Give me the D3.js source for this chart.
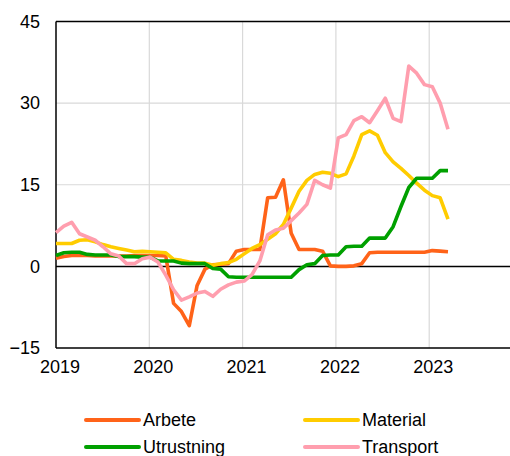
<!DOCTYPE html>
<html>
<head>
<meta charset="utf-8">
<script src="https://cdn.jsdelivr.net/npm/d3@7"></script>
<style>
  html, body { margin: 0; padding: 0; background: #fff; }
  svg { display: block; font-family: "Liberation Sans", Arial, sans-serif; }
</style>
</head>
<body>
<div id="chart"></div>
<script>
// ---- Data (monthly, Jan 2019 – Mar 2023) ----
const months = d3.range(51).map(i => new Date(2019, i, 1));
const arbete = [1.5, 1.8, 2.0, 2.0, 2.0, 1.9, 1.9, 1.9, 1.9, 1.9, 2.0, 2.0, 2.0, 2.0, 1.9,
  -6.8, -8.3, -10.9, -3.5, -0.5, 0.3, 0.4, 0.5, 2.8, 3.1, 3.1, 3.1, 12.6, 12.7, 15.9,
  6.1, 3.1, 3.1, 3.1, 2.8, 0.1, 0.0, 0.0, 0.1, 0.5, 2.5, 2.6, 2.6, 2.6, 2.6, 2.6, 2.6,
  2.6, 2.9, 2.8, 2.7];
const material = [4.2, 4.2, 4.2, 4.8, 4.9, 4.5, 4.0, 3.6, 3.3, 3.0, 2.7, 2.75, 2.7, 2.6, 2.5,
  1.3, 1.1, 0.8, 0.6, 0.6, 0.2, 0.5, 0.7, 1.3, 2.3, 3.3, 4.0, 5.0, 6.0, 7.7,
  10.7, 13.8, 15.8, 16.9, 17.3, 17.1, 16.5, 17.0, 20.3, 24.2, 24.9, 24.1, 20.9, 19.2,
  18.0, 16.7, 15.3, 14.0, 13.0, 12.6, 8.7];
const utrustning = [2.0, 2.5, 2.6, 2.6, 2.2, 2.1, 2.1, 2.1, 1.8, 1.8, 1.8, 1.7, 1.7, 1.0, 1.0,
  1.0, 0.6, 0.5, 0.5, 0.5, -0.4, -0.5, -1.9, -2.0, -2.0, -2.0, -2.0, -2.0, -2.0, -2.0,
  -2.0, -0.6, 0.3, 0.5, 2.0, 2.1, 2.1, 3.6, 3.7, 3.7, 5.2, 5.2, 5.2, 7.3, 11.0, 14.5,
  16.2, 16.2, 16.2, 17.6, 17.6];
const transport = [6.2, 7.4, 8.1, 6.0, 5.4, 4.8, 3.6, 2.3, 1.9, 0.5, 0.5, 1.4, 1.7, 0.8, -1.6,
  -4.3, -6.2, -5.6, -4.9, -4.6, -5.5, -4.2, -3.4, -2.9, -2.7, -1.5, 1.0, 5.8, 6.7, 7.0,
  8.4, 9.8, 11.4, 15.8, 15.0, 14.4, 23.6, 24.2, 26.8, 27.5, 26.4, 28.6, 30.9, 27.2,
  26.6, 36.8, 35.5, 33.4, 33.0, 30.0, 25.2];
const seriesNames = ["Arbete", "Material", "Utrustning", "Transport"];
const seriesValues = [arbete, material, utrustning, transport];
const seriesColors = ["#FF6319", "#FFCC00", "#00A000", "#FF9EAE"];
const yTicks = [-15, 0, 15, 30, 45];
const yearTicks = [2019, 2020, 2021, 2022, 2023];

// ---- Layout ----
const W = 510, H = 456;
const mLeft = 56, mTop = 21.5, mBottom = 348;

const svg = d3.select("#chart").append("svg").attr("width", W).attr("height", H);

const x = d3.scalePoint().domain(months).range([mLeft, 448]);
const xYear = d3.scaleLinear().domain([2019, 2024]).range([mLeft, 522.5]);
const y = d3.scaleLinear().domain([-15, 45]).range([mBottom, mTop]);

// gridlines
svg.append("g").selectAll("line").data([15, 30]).join("line")
  .attr("x1", mLeft).attr("x2", W + 20)
  .attr("y1", d => y(d)).attr("y2", d => y(d))
  .attr("stroke", "#D9D9D9").attr("stroke-width", 1.2);
svg.append("g").selectAll("line").data([2020, 2021, 2022, 2023]).join("line")
  .attr("x1", d => xYear(d)).attr("x2", d => xYear(d))
  .attr("y1", mTop).attr("y2", mBottom)
  .attr("stroke", "#D9D9D9").attr("stroke-width", 1.2);

// frame
svg.append("line").attr("x1", mLeft).attr("x2", W + 20).attr("y1", mTop).attr("y2", mTop)
  .attr("stroke", "#000").attr("stroke-width", 1.5);
svg.append("line").attr("x1", mLeft).attr("x2", mLeft).attr("y1", mTop).attr("y2", mBottom)
  .attr("stroke", "#000").attr("stroke-width", 1.5);
svg.append("line").attr("x1", mLeft).attr("x2", W + 20).attr("y1", mBottom).attr("y2", mBottom)
  .attr("stroke", "#000").attr("stroke-width", 1.5);
// zero line
svg.append("line").attr("x1", mLeft).attr("x2", W + 20).attr("y1", y(0)).attr("y2", y(0))
  .attr("stroke", "#000").attr("stroke-width", 1.5);

// y axis labels
const yAxis = d3.axisLeft(y).tickValues(yTicks).tickSize(0).tickPadding(16);
const gy = svg.append("g").attr("transform", `translate(${mLeft},0)`).call(yAxis);
gy.select(".domain").remove();
gy.selectAll("text").attr("font-size", 18).attr("fill", "#000")
  .attr("font-family", "Liberation Sans, Arial, sans-serif");

// x axis labels
const xAxis = d3.axisBottom(xYear).tickValues(yearTicks).tickFormat(d3.format("d")).tickSize(0).tickPadding(12);
const gx = svg.append("g").attr("transform", `translate(3.5,${mBottom})`).call(xAxis);
gx.select(".domain").remove();
gx.selectAll("text").attr("font-size", 18).attr("fill", "#000")
  .attr("font-family", "Liberation Sans, Arial, sans-serif");

// series
const line = d3.line().x((d, i) => x(months[i])).y(d => y(d));
seriesValues.forEach((vals, k) => {
  svg.append("path").datum(vals)
    .attr("d", line)
    .attr("fill", "none")
    .attr("stroke", seriesColors[k])
    .attr("stroke-width", 3.6)
    .attr("stroke-linejoin", "round")
    .attr("stroke-linecap", "butt");
});

// legend
const legPos = [[86, 420], [305, 420], [86, 447], [305, 447]];
seriesNames.forEach((name, k) => {
  const g = svg.append("g").attr("transform", `translate(${legPos[k][0]},${legPos[k][1]})`);
  g.append("line").attr("x1", 0).attr("x2", 53).attr("y1", 0).attr("y2", 0)
    .attr("stroke", seriesColors[k]).attr("stroke-width", 4).attr("stroke-linecap", "round");
  g.append("text").attr("x", 57).attr("y", 6.3).attr("font-size", 18).attr("fill", "#000")
    .text(name);
});
</script>
</body>
</html>
